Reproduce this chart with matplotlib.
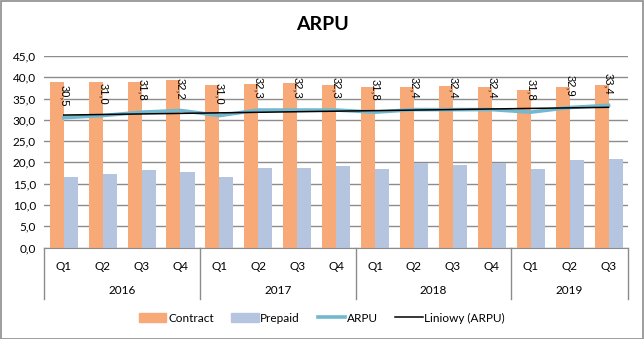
import numpy as np
import matplotlib
matplotlib.use("Agg")
import matplotlib.pyplot as plt
from matplotlib.patches import Patch
from matplotlib.lines import Line2D
import matplotlib.transforms as mtransforms

quarters = ["Q1", "Q2", "Q3", "Q4", "Q1", "Q2", "Q3", "Q4", "Q1", "Q2", "Q3", "Q4", "Q1", "Q2", "Q3"]
years = ["2016", "2017", "2018", "2019"]
year_counts = [4, 4, 4, 3]
contract = [38.9, 38.9, 38.9, 39.3, 38.3, 38.5, 38.7, 38.3, 37.6, 37.8, 38.0, 37.6, 37.1, 37.8, 38.3]
prepaid = [16.5, 17.2, 18.1, 17.8, 16.5, 18.7, 18.7, 19.2, 18.5, 19.9, 19.4, 19.9, 18.5, 20.6, 20.8]
arpu = [30.5, 31.0, 31.8, 32.2, 31.0, 32.3, 32.3, 32.3, 31.8, 32.4, 32.4, 32.4, 31.8, 32.9, 33.4]
yticks = [0, 5, 10, 15, 20, 25, 30, 35, 40, 45]

c_contract = "#F7A978"
c_prepaid = "#B5C4DF"
c_arpu = "#72B8CF"
grid_c = "#8C8C8C"

plt.rcParams["font.family"] = ["Lato", "DejaVu Sans"]

fig = plt.figure(figsize=(6.44, 3.39), dpi=100)
ax = fig.add_axes([44.3 / 644, 1 - 247.5 / 339, (628 - 44.3) / 644, (247.5 - 56) / 339])

x = np.arange(len(quarters))
bw = 0.36
ax.bar(x - bw / 2, contract, bw, color=c_contract, zorder=2, label="Contract")
ax.bar(x + bw / 2, prepaid, bw, color=c_prepaid, zorder=2, label="Prepaid")
ax.plot(x, arpu, color=c_arpu, lw=2.6, zorder=3, label="ARPU", solid_joinstyle="round")
coef = np.polyfit(x, arpu, 1)
ax.plot(x, np.polyval(coef, x), color="black", lw=1.1, zorder=4, label="Liniowy (ARPU)")

for xi, v in zip(x, arpu):
    ax.annotate(f"{v:.1f}".replace(".", ","), (xi, v), xytext=(0, 8), textcoords="offset points",
                rotation=270, ha="center", va="bottom", fontsize=8,
                family=["Liberation Sans", "DejaVu Sans"], zorder=5)

ax.set_xlim(-0.5, len(quarters) - 0.5)
ax.set_ylim(0, 45)
ax.set_yticks(yticks)
ax.set_yticklabels([f"{t:.1f}".replace(".", ",") for t in yticks], fontsize=8.5)
ax.yaxis.grid(True, color=grid_c, lw=1, zorder=0)
ax.set_axisbelow(True)
for s in ["left", "right", "top"]:
    ax.spines[s].set_visible(False)
ax.spines["bottom"].set_color(grid_c)
ax.tick_params(axis="y", length=0, pad=6)
ax.set_xticks(x)
ax.set_xticklabels(quarters, fontsize=8.5)
ax.tick_params(axis="x", length=0, pad=10)

# multi-level category axis
trans = mtransforms.blended_transform_factory(ax.transData, fig.transFigure)
y_top = 1 - 247.5 / 339
y_bot = 1 - 299 / 339
y_year = 1 - 291 / 339
bounds = np.concatenate([[0], np.cumsum(year_counts)]) - 0.5
for b in bounds:
    ax.add_line(Line2D([b, b], [y_top, y_bot], transform=trans, color=grid_c, lw=1, clip_on=False))
for i, yr in enumerate(years):
    ax.text((bounds[i] + bounds[i + 1]) / 2, y_year, yr, transform=trans, ha="center", va="center", fontsize=8.5)

fig.text(0.5, 1 - 25 / 339, "ARPU", ha="center", va="center", fontsize=14, fontweight="bold")

handles = [Patch(color=c_contract), Patch(color=c_prepaid),
           Line2D([], [], color=c_arpu, lw=2.6), Line2D([], [], color="black", lw=1.1)]
fig.legend(handles, ["Contract", "Prepaid", "ARPU", "Liniowy (ARPU)"], loc="center",
           bbox_to_anchor=(322 / 644, 1 - 318 / 339), ncol=4, frameon=False, fontsize=8.5,
           handlelength=2.3, handleheight=0.9, columnspacing=1.5, handletextpad=0.15)

fig.add_artist(plt.Rectangle((0.5 / 644, 0.5 / 339), 1 - 1.5 / 644, 1 - 1.5 / 339, transform=fig.transFigure,
                             fill=False, edgecolor="#8C8C8C", lw=1.2))

fig.savefig("out.png", dpi=100)
